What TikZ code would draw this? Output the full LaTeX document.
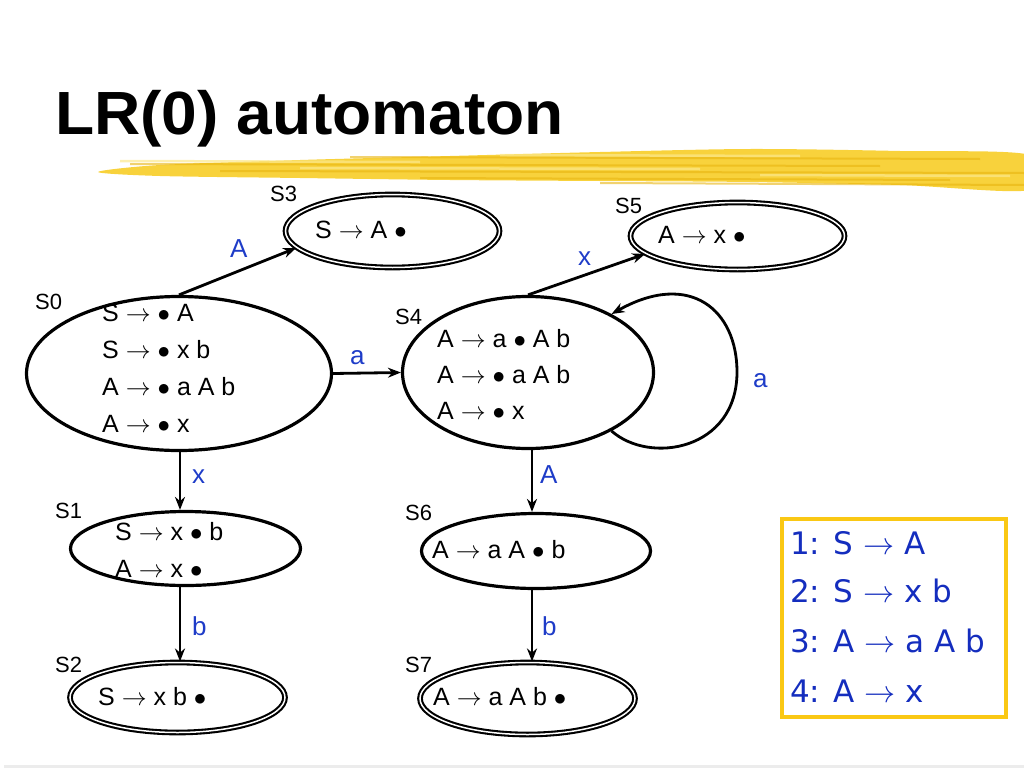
\documentclass[tikz,border=0pt]{standalone}
\usepackage{fontspec}
\setmainfont{Liberation Sans}
\newfontfamily\rulefont{DejaVu Sans}
\usetikzlibrary{shapes.geometric, arrows.meta}
\definecolor{lblblue}{RGB}{30,60,200}
\definecolor{ruleblue}{RGB}{20,45,190}
\definecolor{boxyellow}{RGB}{250,200,20}
\definecolor{brushA}{RGB}{248,210,60}
\definecolor{brushB}{RGB}{232,180,15}
\definecolor{brushC}{RGB}{252,232,140}
\newcommand{\tto}{\ensuremath{\rightarrow}}
\newcommand{\rto}{\scalebox{1.25}{\ensuremath{\rightarrow}}}
\newcommand{\dotm}{\ensuremath{\bullet}}

\begin{document}
\begin{tikzpicture}[x=1pt, y=-1pt,
    state/.style={draw, ellipse, line width=3.2pt, inner sep=0pt},
    accept/.style={draw, ellipse, line width=2.1pt, double, double distance=1.5pt, inner sep=0pt},
    item/.style={anchor=base west, inner sep=0pt, font=\fontsize{25}{30}\selectfont},
    sname/.style={anchor=base west, inner sep=0pt, font=\fontsize{22}{26}\selectfont},
    sym/.style={anchor=base west, inner sep=0pt, text=lblblue, font=\fontsize{26}{30}\selectfont},
    rule/.style={anchor=base west, inner sep=0pt, text=ruleblue, font=\rulefont\fontsize{31}{36}\selectfont},
    trans/.style={line width=2.8pt, -{Stealth[length=13pt, width=10pt]}}]
\useasboundingbox (0,0) rectangle (1024,768);

% title and brush stroke
\node[anchor=base west, inner sep=0pt, font=\bfseries\fontsize{61}{72}\selectfont] (title) at (55,134) {\scalebox{1.05}[1]{LR(0) automaton}};
\fill[brushA] plot[smooth cycle, tension=0.5] coordinates {(98,172) (160,165) (300,160) (450,156) (600,152) (750,149) (900,151) (1030,155) (1030,190) (900,185) (750,182) (600,181) (450,180) (300,178) (160,176)};
\foreach \ya/\xa/\xb in {157/350/980, 164/130/880, 171/220/1024, 178/420/950, 183/600/1024}
    \draw[brushB, line width=2pt, opacity=0.6] (\xa,\ya) -- (\xb,\ya+2);
\foreach \ya/\xa/\xb in {155/500/800, 161/120/420, 168/300/700, 175/760/1010}
    \draw[brushC, line width=2.5pt, opacity=0.7] (\xa,\ya) -- (\xb,\ya+1);
\fill[gray!15] (4,765) rectangle (1030,768);

% states
\node[state, minimum width=305pt, minimum height=154pt] (s0) at (179,373.5) {};
\node[accept, minimum width=214pt, minimum height=73pt] (s3) at (392.5,231) {};
\node[accept, minimum width=214pt, minimum height=67pt] (s5) at (737.5,236) {};
\node[state, minimum width=251pt, minimum height=152pt] (s4) at (528,372.5) {};
\node[state, minimum width=230pt, minimum height=74pt] (s1) at (185.5,548.5) {};
\node[accept, minimum width=215pt, minimum height=70pt] (s2) at (177.5,697.5) {};
\node[state, minimum width=229pt, minimum height=75pt] (s6) at (536,551) {};
\node[accept, minimum width=215pt, minimum height=72pt] (s7) at (527.5,698.5) {};

% state names
\node[sname] (n0) at (35,309) {S0};
\node[sname] (n3) at (270,201) {S3};
\node[sname] (n5) at (615,213) {S5};
\node[sname] (n4) at (395,324) {S4};
\node[sname] (n1) at (55,518) {S1};
\node[sname] (n6) at (405,520) {S6};
\node[sname] (n2) at (55,672) {S2};
\node[sname] (n7) at (405,672) {S7};

% items
\foreach \t [count=\i] in {S \tto{} \dotm{} A, S \tto{} \dotm{} x b, A \tto{} \dotm{} a A b, A \tto{} \dotm{} x}
    \node[item] (s0i\i) at (102,284+37*\i) {\t};
\foreach \t [count=\i] in {A \tto{} a \dotm{} A b, A \tto{} \dotm{} a A b, A \tto{} \dotm{} x}
    \node[item] (s4i\i) at (437,311+36*\i) {\t};
\node[item] (s3i) at (315,238) {S \tto{} A \dotm};
\node[item] (s5i) at (658,243) {A \tto{} x \dotm};
\node[item] (s1i1) at (115,540) {S \tto{} x \dotm{} b};
\node[item] (s1i2) at (115,577) {A \tto{} x \dotm};
\node[item] (s2i) at (98,705) {S \tto{} x b \dotm};
\node[item] (s6i) at (432,558) {A \tto{} a A \dotm{} b};
\node[item] (s7i) at (433,705) {A \tto{} a A b \dotm};

% transitions
\coordinate (colL) at (180,0);
\coordinate (colR) at (532,0);
\coordinate (loopR) at (737,372);
\draw[trans] (s0.north) -- (s3.190);
\draw[trans] (s0.east) -- (s4.west);
\draw[trans] (s0.south -| colL) -- (s1.north -| colL);
\draw[trans] (s1.south -| colL) -- (s2.north -| colL);
\draw[trans] (s4.north) -- (s5.191);
\draw[trans] (s4.-35) .. controls (650,465) and (737,450) .. (loopR) .. controls (737,310) and (690,270) .. (s4.35);
\draw[trans] (s4.south -| colR) -- (s6.north -| colR);
\draw[trans] (s6.south -| colR) -- (s7.north -| colR);

% transition symbols
\node[sym] (l03) at (230,257) {A};
\node[sym] (l04) at (350,364) {a};
\node[sym] (l01) at (192,483) {x};
\node[sym] (l12) at (192,635) {b};
\node[sym] (l45) at (578,265) {x};
\node[sym] (l44) at (753,387) {a};
\node[sym] (l46) at (540,483) {A};
\node[sym] (l67) at (542,635) {b};

% grammar
\node[draw=boxyellow, line width=4pt, minimum width=224pt, minimum height=198pt, anchor=north west, inner sep=0pt] (gbox) at (780,517) {};
\node[rule] (r1) at (790,554) {1: S \rto{} A};
\node[rule] (r2) at (790,602) {2: S \rto{} x b};
\node[rule] (r3) at (790,652) {3: A \rto{} a A b};
\node[rule] (r4) at (790,702) {4: A \rto{} x};
\end{tikzpicture}
\end{document}
